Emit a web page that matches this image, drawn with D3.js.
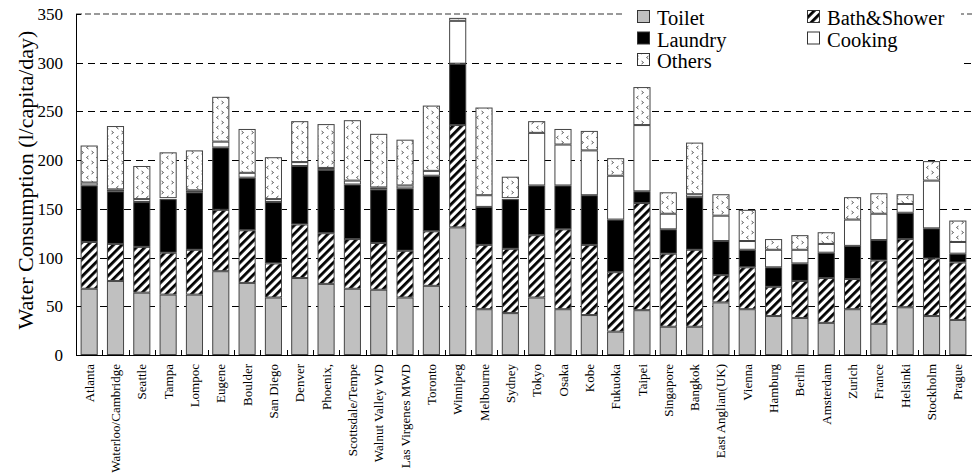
<!DOCTYPE html>
<html>
<head>
<meta charset="utf-8">
<script src="https://cdn.jsdelivr.net/npm/d3@7/dist/d3.min.js"></script>
<style>
  html, body { margin: 0; padding: 0; background: #fff; }
  svg { display: block; }
</style>
</head>
<body>
<svg id="chart" width="972" height="474" font-family="'Liberation Serif', 'DejaVu Serif', serif"></svg>
<script>
const cities = ["Atlanta","Waterloo/Cambridge","Seattle","Tampa","Lompoc","Eugene","Boulder","San Diego","Denver","Phoenix,","Scottsdale/Tempe","Walnut Valley WD","Las Virgenes MWD","Toronto","Winnipeg","Melbourne","Sydney","Tokyo","Osaka","Kobe","Fukuoka","Taipei","Singapore","Bangkok","East Anglian(UK)","Vienna","Hamburg","Berlin","Amsterdam","Zurich","France","Helsinki","Stockholm","Prague"];
const toilet  = [68,76,64,62,62,86,74,59,79,73,68,67,59,71,131,47,43,59,47,41,24,46,29,29,54,47,40,38,33,47,32,49,40,36];
const bath    = [48,38,47,43,46,63,54,35,55,52,51,48,48,56,105,66,66,64,82,72,61,110,75,79,28,43,30,38,46,31,65,70,59,59];
const laundry = [58,54,46,55,59,64,54,63,60,65,56,55,64,57,63,39,51,51,45,51,54,12,25,54,35,18,20,18,26,34,21,27,31,9];
const cooking = [3,2,3,1,2,6,5,3,4,2,4,2,3,5,44,12,1,54,42,46,45,68,16,3,26,9,18,14,9,27,27,9,49,12];
const others  = [38,65,34,47,41,46,45,43,42,45,62,55,47,67,3,90,22,12,16,20,18,39,22,53,22,32,11,15,12,23,21,10,20,22];
const yTicks = [0,50,100,150,200,250,300,350];
const seriesNames = ["Toilet","Bath&Shower","Laundry","Cooking","Others"];
const seriesKeys = ["toilet","bath","laundry","cooking","others"];

(function(){
const svg = d3.select("#chart");
const FONT = "'Liberation Serif', 'DejaVu Serif', serif";
const pLeft = 76, pRight = 971, pTop = 14, pBottom = 355;

const defs = svg.append("defs");
const hatch = defs.append("pattern").attr("id","hatch").attr("patternUnits","userSpaceOnUse")
  .attr("width",6).attr("height",6).attr("patternTransform","rotate(45)");
hatch.append("rect").attr("width",6).attr("height",6).attr("fill","#fff");
hatch.append("rect").attr("x",0).attr("width",2.8).attr("height",6).attr("fill","#000");

const dots = defs.append("pattern").attr("id","dots").attr("patternUnits","userSpaceOnUse")
  .attr("width",10).attr("height",10);
dots.append("rect").attr("width",10).attr("height",10).attr("fill","#fff");
dots.append("path").attr("d","M1.5,1 L3.5,2.5 L1.5,4").attr("fill","none").attr("stroke","#444").attr("stroke-width",0.9);
dots.append("path").attr("d","M8.5,6 L6.5,7.5 L8.5,9").attr("fill","none").attr("stroke","#444").attr("stroke-width",0.9);

const fills = {toilet:"#c0c0c0", bath:"url(#hatch)", laundry:"#000", cooking:"#fff", others:"url(#dots)"};

const x = d3.scaleBand().domain(cities).range([pLeft,pRight]).paddingInner(0.35).paddingOuter(0.175);
const y = d3.scaleLinear().domain([0,350]).range([pBottom,pTop]);

const rows = cities.map((c,i)=>({city:c, toilet:toilet[i], bath:bath[i], laundry:laundry[i], cooking:cooking[i], others:others[i]}));
const stacked = d3.stack().keys(seriesKeys)(rows);

// gridlines
const grid = svg.append("g");
yTicks.filter(t=>t>0 && t<350).forEach(t=>{
  grid.append("line").attr("x1",pLeft).attr("x2",972).attr("y1",Math.round(y(t))+0.5).attr("y2",Math.round(y(t))+0.5)
    .attr("stroke","#000").attr("stroke-width",1).attr("stroke-dasharray","7,5");
});
grid.append("line").attr("x1",pLeft).attr("x2",972).attr("y1",y(350)).attr("y2",y(350))
  .attr("stroke","#999").attr("stroke-width",2).attr("stroke-dasharray","6,3");

// bars
const g = svg.append("g");
stacked.forEach(s=>{
  g.append("g").selectAll("rect").data(s).join("rect")
    .attr("x",d=>x(d.data.city)+0.5)
    .attr("width",x.bandwidth()-1)
    .attr("y",d=>y(d[1])+0.5)
    .attr("height",d=>Math.max(0,y(d[0])-y(d[1])-1))
    .attr("fill",fills[s.key])
    .attr("stroke","#444").attr("stroke-width",1);
});

// axes
svg.append("line").attr("x1",pLeft+0.5).attr("x2",pLeft+0.5).attr("y1",pTop).attr("y2",pBottom).attr("stroke","#000");
svg.append("line").attr("x1",pLeft).attr("x2",972).attr("y1",pBottom+0.5).attr("y2",pBottom+0.5).attr("stroke","#000");
yTicks.forEach(t=>{
  svg.append("line").attr("x1",pLeft).attr("x2",pLeft+5).attr("y1",Math.round(y(t))+0.5).attr("y2",Math.round(y(t))+0.5).attr("stroke","#000");
  svg.append("text").attr("x",63).attr("y",y(t)).attr("dy","0.35em").attr("text-anchor","end")
    .attr("font-family",FONT).attr("font-size",17).text(t);
});
cities.forEach((c,i)=>{
  if(i===0) return;
  const bx = Math.round(x(c) - x.step()*x.paddingInner()/2)+0.5;
  svg.append("line").attr("x1",bx).attr("x2",bx).attr("y1",pBottom).attr("y2",pBottom-5).attr("stroke","#000");
});
svg.append("g").selectAll("text").data(cities).join("text")
  .attr("transform",d=>`translate(${x(d)+x.bandwidth()/2},364) rotate(-90)`)
  .attr("dy","0.35em").attr("text-anchor","end").attr("font-family",FONT).attr("font-size",13).text(d=>d);

svg.append("text").attr("transform",`translate(25,180) rotate(-90)`).attr("dy","0.35em")
  .attr("text-anchor","middle").attr("font-family",FONT).attr("font-size",22).text("Water Consumption (l/capita/day)");

// legend
const lg = svg.append("g");
lg.append("rect").attr("x",622).attr("y",0).attr("width",339).attr("height",76).attr("fill","#fff");
const legendItems = [
  {key:"toilet", name:seriesNames[0], col:0, row:0},
  {key:"laundry", name:seriesNames[2], col:0, row:1},
  {key:"others", name:seriesNames[4], col:0, row:2},
  {key:"bath", name:seriesNames[1], col:1, row:0},
  {key:"cooking", name:seriesNames[3], col:1, row:1}
];
legendItems.forEach(it=>{
  const sx = it.col===0 ? 637 : 807;
  const base = 25 + it.row*21.5;
  lg.append("rect").attr("x",sx+0.5).attr("y",base-14.5).attr("width",12).attr("height",12)
    .attr("fill",fills[it.key]).attr("stroke","#333").attr("stroke-width",1);
  lg.append("text").attr("x",sx+20).attr("y",base).attr("font-family",FONT).attr("font-size",20.5).text(it.name);
});
})();
</script>
</body>
</html>
